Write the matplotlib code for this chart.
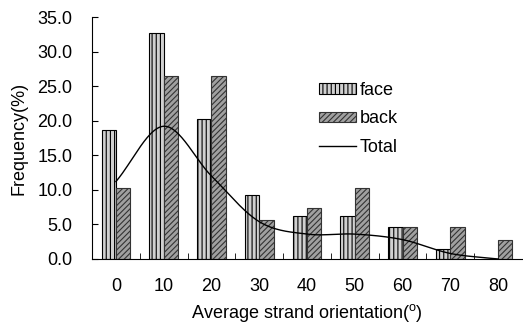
import numpy as np
import matplotlib
matplotlib.use('Agg')
import matplotlib.pyplot as plt

plt.rcParams['font.family'] = ['Liberation Sans', 'DejaVu Sans']
plt.rcParams['hatch.linewidth'] = 0.8

# data
angles = [0, 10, 20, 30, 40, 50, 60, 70, 80]
face = [18.7, 32.7, 20.3, 9.3, 6.2, 6.2, 4.6, 1.5, 0.0]
back = [10.3, 26.5, 26.5, 5.6, 7.4, 10.3, 4.6, 4.6, 2.7]
total = [11.2, 19.2, 12.0, 5.4, 3.6, 3.6, 2.8, 0.8, 0.0]


# Excel-like smoothed line (Catmull-Rom through the points)
def smooth(x, y, n=30):
    x = np.asarray(x, float)
    y = np.asarray(y, float)
    px = np.concatenate([[2 * x[0] - x[1]], x, [2 * x[-1] - x[-2]]])
    py = np.concatenate([[2 * y[0] - y[1]], y, [2 * y[-1] - y[-2]]])
    xs, ys = [], []
    t = np.linspace(0, 1, n)
    for i in range(1, len(px) - 2):
        for p, out in ((px, xs), (py, ys)):
            p0, p1, p2, p3 = p[i - 1], p[i], p[i + 1], p[i + 2]
            out.extend(0.5 * ((2 * p1) + (-p0 + p2) * t
                              + (2 * p0 - 5 * p1 + 4 * p2 - p3) * t ** 2
                              + (-p0 + 3 * p1 - 3 * p2 + p3) * t ** 3))
    return np.array(xs), np.array(ys)


fs = 13
fig = plt.figure(figsize=(5.23, 3.27), dpi=100)
ax = fig.add_axes([0.176, 0.208, 0.822, 0.740])

pos = np.arange(len(angles))
w = 0.3
b1 = ax.bar(pos - w / 2, face, w, color='#d0d0d0', edgecolor='black', hatch='||||',
            linewidth=0.8, label='face')
b2 = ax.bar(pos + w / 2, back, w, color='#a0a0a0', edgecolor='#333333', hatch='//////',
            linewidth=0.8, label='back')
sx, sy = smooth(pos, total)
l1, = ax.plot(sx, sy, color='black', linewidth=1.0, label='Total')

ax.set_xlim(-0.5, len(angles) - 0.5)
ax.set_ylim(0, 35)
ax.set_yticks(np.arange(0, 36, 5))
ax.set_yticklabels(['%.1f' % v for v in np.arange(0, 36, 5)], fontsize=fs)
ax.set_xticks(pos)
ax.set_xticklabels([str(a) for a in angles], fontsize=fs)
ax.set_xticks(np.arange(0.5, len(angles) - 0.5), minor=True)
ax.tick_params(axis='x', which='major', length=0, pad=14)
ax.tick_params(axis='x', which='minor', direction='in', length=4)
ax.tick_params(axis='y', direction='in', length=4, pad=14)

ax.spines['top'].set_visible(False)
ax.spines['right'].set_visible(False)

ax.set_xlabel(r'Average strand orientation($\mathregular{^o}$)', fontsize=fs, labelpad=5)
ax.set_ylabel('Frequency(%)', fontsize=fs, labelpad=7)

ax.legend([b1, b2, l1], ['face', 'back', 'Total'], loc='upper left',
          bbox_to_anchor=(0.49, 0.80), frameon=False, fontsize=fs,
          handlelength=2.05, handleheight=0.55, labelspacing=0.65,
          handletextpad=0.2)

fig.savefig('out.png', dpi=100)
